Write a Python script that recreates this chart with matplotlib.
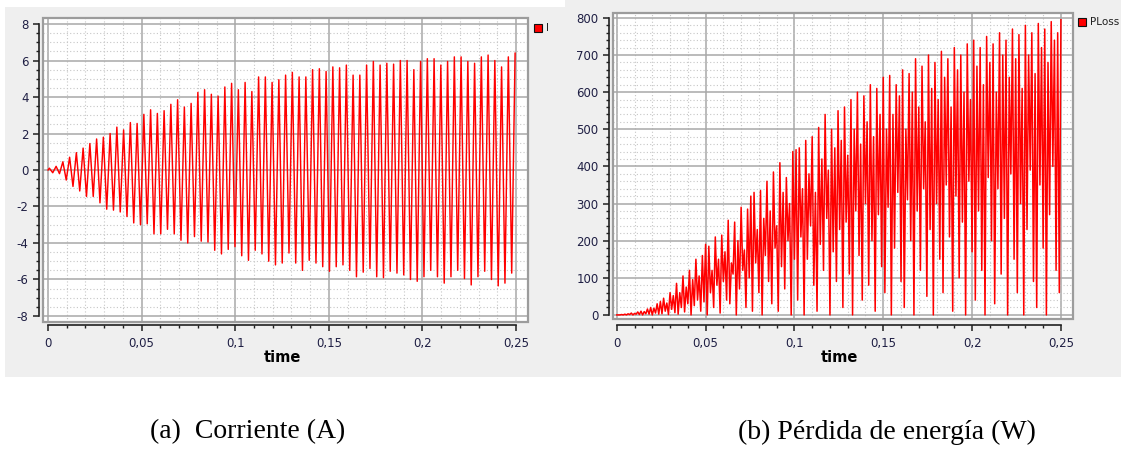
import numpy as np
import matplotlib
matplotlib.use("Agg")
import matplotlib.pyplot as plt
from matplotlib.patches import Rectangle
from matplotlib.ticker import MultipleLocator

# current I (A): positive and negative peak of every cycle, read left to right
cur_pos_peaks = [0.1, 0.2, 0.45, 0.7, 0.95, 1.2, 1.45, 1.7, 1.8, 2.0,
                 2.35, 2.2, 2.6, 2.55, 3.05, 3.3, 3.1, 3.25, 3.6, 3.85,
                 3.45, 3.65, 4.25, 4.4, 4.15, 4.05, 4.55, 4.75, 4.4, 4.8,
                 4.3, 5.1, 5.1, 4.8, 4.95,
                 5.2, 5.35, 5.1, 5.1, 5.5, 5.55, 5.4, 5.65, 5.6, 5.75,
                 5.2, 5.2, 5.75, 5.95, 5.75, 5.85, 5.8, 6.0, 6.0, 5.5,
                 5.95, 6.1, 6.1, 5.75, 5.95, 6.2, 6.2, 5.95, 5.85, 6.2,
                 6.3, 6.0, 5.65, 6.2, 6.4]
cur_neg_peaks = [-0.15, -0.2, -0.55, -0.9, -1.15, -1.45, -1.45, -1.8, -2.15, -2.2,
                 -2.3, -2.55, -2.9, -3.0, -2.95, -3.5, -3.5, -3.25, -3.5, -3.85,
                 -4.0, -3.65, -3.9, -3.95, -4.4, -4.6, -4.35, -4.2, -4.7, -4.95,
                 -4.4, -4.6, -5.0, -5.2,
                 -5.1, -4.55, -5.1, -5.5, -4.95, -5.1, -5.3, -5.55, -5.3, -5.2,
                 -5.5, -5.85, -5.6, -5.4, -5.85, -5.9, -5.55, -5.65, -5.75, -6.0,
                 -6.1, -5.85, -5.5, -5.85, -6.2, -5.85, -5.5, -5.95, -6.3, -5.85,
                 -5.55, -6.0, -6.35, -6.2, -5.65]
cur_t_first = 0.0007
cur_t_last = 0.2495

# PLoss (W): spike tops and the valleys before them
ploss_peaks = [0, 1, 2, 3, 5, 4, 8, 10, 9, 16, 20, 18, 30, 36,
               45, 32, 60, 52, 85, 60, 105, 75, 120, 95, 150, 105, 160, 190,
               185, 120, 210, 150, 215, 170, 255, 140, 250, 200, 290, 175, 285, 320,
               330, 230, 335, 260, 360, 280, 385, 240, 410, 330, 370, 300, 440, 445,
               450, 340, 470, 380, 480, 330, 505, 420, 540, 390, 500, 450, 550, 470,
               560, 430, 580, 500, 600, 460, 590, 520, 620, 480, 610, 540, 640, 500,
               645, 540, 620, 590, 660, 500, 650, 600, 690, 560, 670, 520, 700, 610,
               680, 580, 710, 640, 690, 560, 720, 660, 700, 600, 730, 580, 740, 670,
               720, 620, 750, 680, 730, 600, 760, 700, 740, 640, 770, 690, 755, 610,
               780, 700, 760, 650, 785, 720, 770, 680, 790, 740, 760, 795]
ploss_valleys = [0, 0, 0, 0, 1, 0, 2, 1, 0, 3, 2, 0, 5, 2,
                 3, 10, 1, 15, 6, 2, 20, 8, 30, 0, 25, 40, 10, 35,
                 0, 60, 20, 80, 5, 90, 40, 30, 110, 0, 70, 120, 20, 100,
                 10, 140, 60, 0, 160, 90, 30, 180, 10, 130, 70, 200, 0, 150,
                 40, 210, 0, 150, 240, 80, 10, 190, 120, 260, 0, 170, 90, 230,
                 20, 250, 110, 0, 280, 160, 40, 300, 80, 200, 10, 270, 130, 60,
                 290, 0, 180, 330, 90, 20, 310, 200, 0, 280, 120, 340, 50, 230,
                 0, 300, 150, 60, 350, 210, 10, 320, 100, 250, 0, 360, 170, 40,
                 280, 120, 0, 370, 200, 30, 340, 110, 260, 0, 380, 150, 60, 300,
                 0, 230, 390, 90, 20, 350, 180, 0, 270, 400, 120, 60]

time_ticks = [0, 0.05, 0.1, 0.15, 0.2, 0.25]
time_labels = ["0", "0,05", "0,1", "0,15", "0,2", "0,25"]
cur_yticks = [-8, -6, -4, -2, 0, 2, 4, 6, 8]
ploss_yticks = [0, 100, 200, 300, 400, 500, 600, 700, 800]
captions = ["(a)  Corriente (A)", "(b) Pérdida de energía (W)"]
legend_names = ["I", "PLoss"]

W, H = 1126, 450
plt.rcParams["axes.unicode_minus"] = False
plt.rcParams["font.family"] = "DejaVu Sans"


def fx(px):
    return px / W


def fy(py):
    return 1 - py / H


fig = plt.figure(figsize=(W / 100, H / 100), dpi=100, facecolor="white")

# grey panel backgrounds
fig.add_artist(Rectangle((fx(5), fy(377)), fx(560), 370 / H, transform=fig.transFigure,
                         fc="#efefef", ec="none", zorder=0))
fig.add_artist(Rectangle((fx(565), fy(377)), fx(556), 377 / H, transform=fig.transFigure,
                         fc="#efefef", ec="none", zorder=0))

ax1 = fig.add_axes([fx(43), fy(322), fx(485), 304 / H])
ax2 = fig.add_axes([fx(612.5), fy(319), fx(460.5), 306.3 / H])


def style_axes(ax, xlim, ylim, yticks, yminor, ybounds, left_out, bottom_out):
    ax.set_facecolor("white")
    ax.set_xlim(xlim)
    ax.set_ylim(ylim)
    ax.set_xticks(time_ticks)
    ax.set_xticklabels(time_labels)
    ax.xaxis.set_minor_locator(MultipleLocator(0.01))
    ax.set_yticks(yticks)
    ax.yaxis.set_minor_locator(MultipleLocator(yminor))
    ax.grid(which="major", color="#a8a8a8", lw=1.1)
    ax.grid(which="minor", color="#c6c6c6", lw=0.8, ls=(0, (1, 2)))
    ax.set_axisbelow(True)
    for s in ["top", "right"]:
        ax.spines[s].set_visible(False)
    ax.spines["left"].set_position(("outward", left_out))
    ax.spines["left"].set_bounds(*ybounds)
    ax.spines["bottom"].set_position(("outward", bottom_out))
    ax.spines["bottom"].set_bounds(0, 0.25)
    for s in ["left", "bottom"]:
        ax.spines[s].set_color("#202020")
        ax.spines[s].set_linewidth(1.2)
    ax.tick_params(which="major", length=4.5, width=1.1, color="#202020",
                   labelsize=8.5, labelcolor="#1f1f44")
    ax.tick_params(which="minor", length=2.2, width=1.0, color="#202020")
    ax.tick_params(axis="x", pad=4)
    ax.tick_params(axis="y", pad=3)
    ax.add_patch(Rectangle((0, 0), 1, 1, transform=ax.transAxes, fill=False,
                           ec="#9c9c9c", lw=1.6, clip_on=False, zorder=3))


style_axes(ax1, (-0.0027, 0.2564), (-8.33, 8.33), cur_yticks, 0.5, (-8, 8), 3, 2.2)
style_axes(ax2, (-0.0024, 0.2568), (-11, 814), ploss_yticks, 20, (0, 800), 2.5, 4.3)

# current trace: start at zero, then alternate positive / negative peaks
t_pos = np.linspace(cur_t_first, cur_t_last, len(cur_pos_peaks))
half = (t_pos[1] - t_pos[0]) / 2
t_cur = [0.0]
i_cur = [0.0]
for k, p in enumerate(cur_pos_peaks):
    t_cur.append(t_pos[k])
    i_cur.append(p)
    if k < len(cur_neg_peaks):
        t_cur.append(t_pos[k] + half)
        i_cur.append(cur_neg_peaks[k])
ax1.plot(t_cur, i_cur, color="#ff0000", lw=1.05, zorder=2)

# ploss trace: valley, spike, valley, spike ...
t_pl = np.linspace(0, 0.25, 2 * len(ploss_peaks))
p_pl = []
for v, p in zip(ploss_valleys, ploss_peaks):
    p_pl += [v, p]
ax2.plot(t_pl, p_pl, color="#ff0000", lw=1.1, zorder=2)

# axis titles
fig.text(fx(282), fy(358), "time", ha="center", va="center", fontsize=10.5, fontweight="bold")
fig.text(fx(839), fy(358), "time", ha="center", va="center", fontsize=10.5, fontweight="bold")

# legends (swatch + name)
for (sx, sy), name in zip([(534, 24), (1078, 18)], legend_names):
    fig.add_artist(Rectangle((fx(sx), fy(sy + 8)), fx(8), 8 / H, transform=fig.transFigure,
                             fc="#ff0000", ec="#101010", lw=0.8))
    fig.text(fx(sx + 12), fy(sy + 4), name, ha="left", va="center", fontsize=7.5,
             color="#202020")

# captions under the panels
fig.text(fx(150), fy(432), captions[0], ha="left", va="center", fontsize=20,
         family="Liberation Serif")
fig.text(fx(738), fy(432), captions[1], ha="left", va="center", fontsize=20,
         family="Liberation Serif")

fig.savefig("out.png", dpi=100, facecolor="white")
